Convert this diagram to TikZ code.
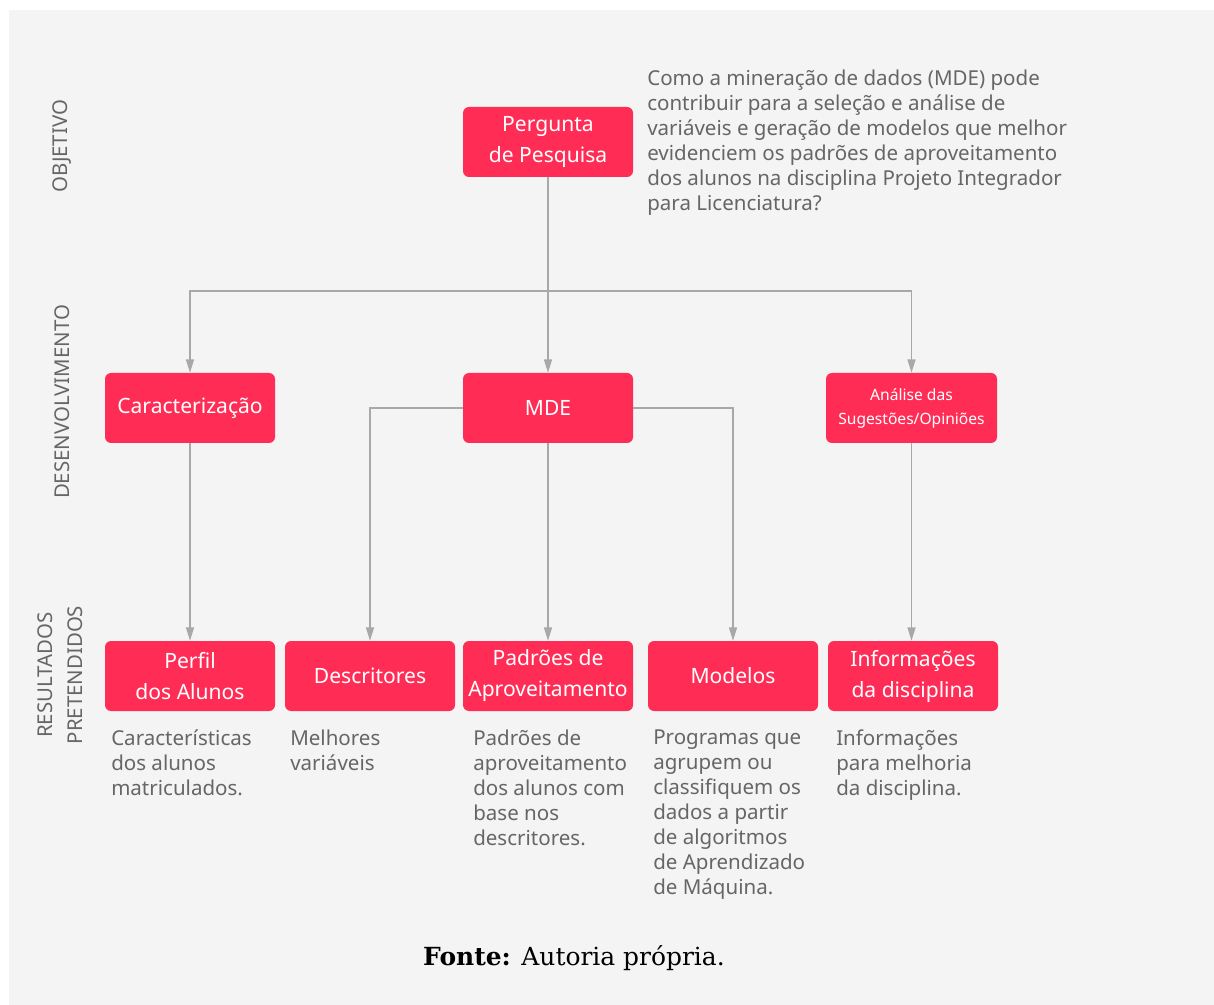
\documentclass[tikz,border=0pt]{standalone}
\usepackage{fontspec}
\setmainfont{Noto Sans}
\newfontfamily\fonteserif{DejaVu Serif}
\usetikzlibrary{arrows.meta}

\definecolor{rosa}{HTML}{FF2D55}
\definecolor{linha}{HTML}{A8A8A8}
\definecolor{cinzatexto}{HTML}{666666}
\definecolor{fundo}{HTML}{F4F4F4}

\tikzset{
    caixa/.style={fill=rosa, rounded corners=4.5pt, minimum width=127.5pt, minimum height=52.5pt,
        inner sep=0pt, text=white, align=center, font=\fontsize{15.8}{23.25}\selectfont},
    lateral/.style={rotate=90, text=cinzatexto, align=center, font=\fontsize{15.3}{22.5}\selectfont},
    descricao/.style={anchor=north west, inner sep=0pt, text=cinzatexto, align=left,
        font=\fontsize{15.4}{18.75}\selectfont},
    seta/.style={draw=linha, line width=1pt, -{Triangle[length=10pt, width=6pt]}},
    ligacao/.style={draw=linha, line width=1pt}
}

\begin{document}
\begin{tikzpicture}[x=0.75pt, y=-0.75pt]
    \fill[white] (0,0) rectangle (1214,1005);
    \fill[fundo] (9,10) rectangle (1214,1005);

    \node[lateral] (objetivo) at (62,146) {OBJETIVO};
    \node[lateral] (desenvolvimento) at (62,402) {DESENVOLVIMENTO};
    \node[lateral] (resultados) at (60,675) {RESULTADOS\\PRETENDIDOS};

    \node[caixa] (pergunta) at (548,142) {Pergunta\\de Pesquisa};
    \node[descricao] (questao) at (647,70) {Como a mineração de dados (MDE) pode\\contribuir para a seleção e análise de\\variáveis e geração de modelos que melhor\\evidenciem os padrões de aproveitamento\\dos alunos na disciplina Projeto Integrador\\para Licenciatura?};

    \node[caixa] (caract) at (190,408) {Caracterização};
    \node[caixa] (mde) at (548,408) {MDE};
    \node[caixa, minimum width=128.25pt, font=\fontsize{11.7}{18}\selectfont] (analise) at (911.5,408) {Análise das\\Sugestões/Opiniões};

    \node[caixa] (perfil) at (190,676) {Perfil\\dos Alunos};
    \node[caixa] (descritores) at (370,676) {Descritores};
    \node[caixa] (padroes) at (548,676) {Padrões de\\Aproveitamento};
    \node[caixa] (modelos) at (733,676) {Modelos};
    \node[caixa] (informacoes) at (913,676) {Informações\\da disciplina};

    \node[descricao] (descperfil) at (111,730) {Características\\dos alunos\\matriculados.};
    \node[descricao] (descdescritores) at (290,730) {Melhores\\variáveis};
    \node[descricao] (descpadroes) at (473,730) {Padrões de\\aproveitamento\\dos alunos com\\base nos\\descritores.};
    \node[descricao] (descmodelos) at (653,730) {Programas que\\agrupem ou\\classifiquem os\\dados a partir\\de algoritmos\\de Aprendizado\\de Máquina.};
    \node[descricao] (descinformacoes) at (836,730) {Informações\\para melhoria\\da disciplina.};

    \coordinate (juncao) at (548,291);
    \draw[ligacao] (pergunta) -- (juncao);
    \draw[seta] (juncao) -| (caract.north);
    \draw[seta] (juncao) -- (mde.north);
    \draw[seta] (juncao) -| (analise.north);

    \draw[seta] (caract) -- (perfil);
    \draw[seta] (mde.west) -| (descritores.north);
    \draw[seta] (mde) -- (padroes);
    \draw[seta] (mde.east) -| (modelos.north);
    \draw[seta] (analise) -- (analise |- informacoes.north);

    \node[font=\fonteserif\fontsize{18.7}{22}\selectfont] (fonte) at (574,958) {\textbf{Fonte:} Autoria própria.};
\end{tikzpicture}
\end{document}
